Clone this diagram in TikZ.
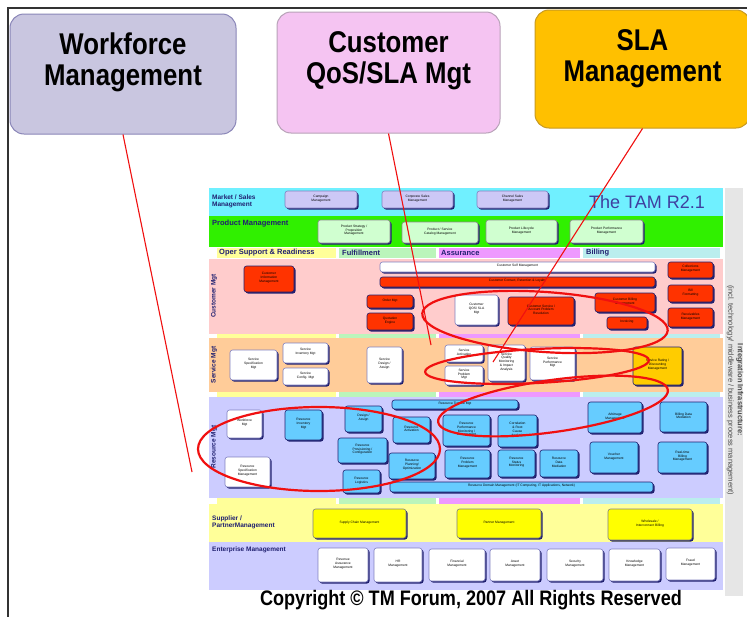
\documentclass[tikz,border=0pt]{standalone}
\usepackage{fontspec}
\setmainfont{Liberation Sans}
\newfontfamily\narrowfont[FakeStretch=0.86]{Liberation Sans}
\usepackage{tikz}
\usetikzlibrary{positioning,fit,shadows}
\definecolor{cframe}{HTML}{333333}
\definecolor{cwfm}{HTML}{C9C6E0}
\definecolor{cwfmline}{HTML}{8A86B8}
\definecolor{cqos}{HTML}{F5C4F2}
\definecolor{cqosline}{HTML}{B8A2B8}
\definecolor{csla}{HTML}{FFC000}
\definecolor{cslaline}{HTML}{C89A20}
\definecolor{cmarket}{HTML}{70F0FF}
\definecolor{cprod}{HTML}{30F000}
\definecolor{cprodbox}{HTML}{D0FFD0}
\definecolor{cmktbox}{HTML}{CCC8F6}
\definecolor{coper}{HTML}{FFFF99}
\definecolor{cfulf}{HTML}{BBF5BB}
\definecolor{cassur}{HTML}{EE99FF}
\definecolor{cbill}{HTML}{BBEEEE}
\definecolor{ccust}{HTML}{FFCCCC}
\definecolor{cserv}{HTML}{FFCC99}
\definecolor{cres}{HTML}{CCCCFF}
\definecolor{csupp}{HTML}{FFFF99}
\definecolor{cred}{HTML}{FF3300}
\definecolor{cblue}{HTML}{66CCFF}
\definecolor{cyel}{HTML}{FFFF00}
\definecolor{crate}{HTML}{FFCC00}
\definecolor{cnavy}{HTML}{202070}
\definecolor{cpurple}{HTML}{8080C0}
\definecolor{ctam}{HTML}{3F3FA0}
\definecolor{cloop}{HTML}{F01010}
\definecolor{cstrip}{HTML}{E6E6E6}

\begin{document}
\begin{tikzpicture}[x=1pt,y=-1pt,
  topbox/.style={rectangle,rounded corners=14pt,line width=1pt,inner sep=0pt},
  toptext/.style={font=\narrowfont\bfseries\fontsize{30}{31}\selectfont,align=center,inner sep=0pt},
  lbl/.style={font=\bfseries\fontsize{6.5}{7}\selectfont,text=cnavy,align=left,inner sep=0pt,anchor=west},
  hdr/.style={font=\bfseries\fontsize{7.5}{8}\selectfont,text=cnavy,inner sep=0pt,anchor=west},
  tam/.style={rectangle,rounded corners=2.5pt,inner sep=0pt,align=center,line width=0.6pt,
              font=\fontsize{3.3}{3.8}\selectfont,
              drop shadow={shadow xshift=1.5pt,shadow yshift=-1.5pt,fill=cnavy,opacity=1}},
  mktbox/.style={tam,fill=cmktbox,draw=cpurple},
  prodbox/.style={tam,fill=cprodbox,draw=black!45},
  redbox/.style={tam,fill=cred,draw=cnavy},
  whitebox/.style={tam,fill=white,draw=cpurple},
  bluebox/.style={tam,fill=cblue,draw=cnavy},
  yelbox/.style={tam,fill=cyel,draw=black!50},
  redline/.style={cloop,line width=1.1pt},
  loop/.style={cloop,line width=2.2pt}]
\useasboundingbox (0,0) rectangle (747,616);
\fill[white] (0,0) rectangle (747,616);
\draw[cframe,line width=1.6pt] (8,8) rectangle (770,640);

% top boxes
\node[topbox,fill=cwfm,draw=cwfmline,fit={(10,14) (236,134)}] (wfm) {};
\node[topbox,fill=cqos,draw=cqosline,fit={(277,12) (500,133)}] (qos) {};
\node[topbox,fill=csla,draw=cslaline,fit={(535,10) (750,128)}] (sla) {};
\node[toptext,below=19pt of wfm.north] (wfmtxt) {Workforce\\Management};
\node[toptext,below=20pt of qos.north] (qostxt) {Customer\\QoS/SLA Mgt};
\node[toptext,below=20pt of sla.north] (slatxt) {SLA\\Management};

% bands of the map
\fill[white] (209,188) rectangle (723,592);
\fill[cmarket] (209,188) rectangle (723,216);
\fill[cprod] (209,216) rectangle (723,247);
\fill[ccust] (209,259) rectangle (723,334);
\fill[cserv] (209,338) rectangle (723,392);
\fill[cres] (209,397) rectangle (723,498);
\fill[csupp] (209,504) rectangle (723,542);
\fill[cres] (209,542) rectangle (723,590);
\fill[cstrip] (725,188) rectangle (743,596);
\foreach \ya/\yb in {248/258,334/338,392/397,498/504}{
  \fill[coper] (217,\ya) rectangle (336,\yb);
  \fill[cfulf] (339,\ya) rectangle (436,\yb);
  \fill[cassur] (439,\ya) rectangle (580,\yb);
  \fill[cbill] (583,\ya) rectangle (720,\yb);
}

% band labels
\node[lbl] (mktlbl) at (212,201) {Market / Sales\\Management};
\node[lbl,font=\bfseries\fontsize{7.5}{8}\selectfont] (prodlbl) at (212,224) {Product Management};
\node[hdr] (operlbl) at (219,253) {Oper Support \& Readiness};
\node[hdr] (fulflbl) at (342,253) {Fulfillment};
\node[hdr] (assurlbl) at (441,253) {Assurance};
\node[hdr] (billlbl) at (586,253) {Billing};
\node[lbl,anchor=center,rotate=90] (custlbl) at (214,296) {Customer Mgt};
\node[lbl,anchor=center,rotate=90] (servlbl) at (214,365) {Service Mgt};
\node[lbl,anchor=center,rotate=90] (reslbl) at (214,447) {Resource Mgt};
\node[lbl] (supplbl) at (212,522) {Supplier /\\PartnerManagement};
\node[lbl] (entlbl) at (212,550) {Enterprise Management};
\node[font=\fontsize{18}{20}\selectfont,text=ctam] (tamlbl) at (647,202) {The TAM R2.1};
\node[rotate=-90,align=center,font=\fontsize{7.5}{9.5}\selectfont,text=black!70] (infra) at (735,390)
  {\textbf{Integration Infrastructure:}\\(incl. technology/ middleware / business process management)};

% market / product
\node[mktbox,fit={(285,191) (357,208)}] (camp) {Campaign\\Management};
\node[mktbox,fit={(382,191) (453,208)}] (corp) {Corporate Sales\\Management};
\node[mktbox,fit={(477,191) (548,208)}] (chan) {Channel Sales\\Management};
\node[prodbox,fit={(318,220) (390,243)}] (pstrat) {Product Strategy /\\Proposition\\Management};
\node[prodbox,fit={(402,222) (478,243)}] (pcat) {Product / Service\\Catalog Management};
\node[prodbox,fit={(486,220) (557,243)}] (plife) {Product Lifecycle\\Management};
\node[prodbox,fit={(570,220) (643,243)}] (pperf) {Product Performance\\Management};

% customer
\node[redbox,fit={(244,266) (294,292)}] (cim) {Customer\\Information\\Management};
\node[whitebox,fit={(380,262) (655,272)}] (cself) {Customer Self Management};
\node[redbox,fit={(380,277) (655,287)}] (ccrl) {Customer Contact, Retention \& Loyalty};
\node[redbox,fit={(367,295) (413,308)}] (order) {Order Mgt};
\node[redbox,fit={(367,313) (413,330)}] (quote) {Quotation\\Engine};
\node[whitebox,fit={(455,295) (498,325)}] (cqos) {Customer\\QOS/ SLA\\Mgt};
\node[redbox,fit={(508,297) (574,325)}] (csapr) {Customer Service /\\Account Problem\\Resolution};
\node[redbox,fit={(595,293) (655,312)}] (cbill) {Customer Billing\\Management};
\node[redbox,fit={(607,317) (647,329)}] (invoice) {Invoicing};
\node[redbox,fit={(668,262) (713,278)}] (collect) {Collections\\Management};
\node[redbox,fit={(668,285) (713,302)}] (billfmt) {Bill\\Formatting};
\node[redbox,fit={(668,308) (713,327)}] (receiv) {Receivables\\Management};

% service
\node[whitebox,fit={(230,350) (277,380)}] (sspec) {Service\\Specification\\Mgt};
\node[whitebox,fit={(283,343) (328,363)}] (sinv) {Service\\Inventory Mgt};
\node[whitebox,fit={(283,368) (328,385)}] (sconf) {Service\\Config. Mgt};
\node[whitebox,fit={(367,347) (402,383)}] (sdes) {Service\\Design /\\Assign};
\node[whitebox,fit={(445,345) (483,362)}] (sact) {Service\\Activation};
\node[whitebox,fit={(445,366) (483,385)}] (sprob) {Service\\Problem\\Mgt};
\node[whitebox,fit={(488,345) (525,381)}] (sqm) {Service\\Quality\\Monitoring\\\& Impact\\Analysis};
\node[whitebox,fit={(530,347) (575,380)}] (sperf) {Service\\Performance\\Mgt};
\node[tam,fill=crate,draw=cnavy,fit={(633,347) (682,385)}] (srate) {Service Rating /\\Discounting\\Management};

% resource
\node[whitebox,fit={(227,410) (262,438)}] (wfmres) {Workforce\\Mgt};
\node[whitebox,fit={(225,457) (270,487)}] (rspec) {Resource\\Specification\\Management};
\node[bluebox,fit={(285,410) (322,440)}] (rinv) {Resource\\Inventory\\Mgt};
\node[bluebox,fit={(345,406) (382,432)}] (rdes) {Design /\\Assign};
\node[bluebox,fit={(338,438) (387,463)}] (rprov) {Resource\\Provisioning /\\Configuration};
\node[bluebox,fit={(343,470) (380,493)}] (rlog) {Resource\\Logistics};
\node[bluebox,fit={(389,453) (435,479)}] (rplan) {Resource\\Planning/\\Optimization};
\node[bluebox,fit={(393,417) (430,443)}] (ract) {Resource\\Activation};
\node[bluebox,fit={(392,400) (518,409)}] (rtrb) {Resource Trouble Mgt};
\node[bluebox,fit={(443,415) (490,446)}] (rperf) {Resource\\Performance\\Monitoring /\\Management};
\node[bluebox,fit={(445,450) (490,478)}] (rprob) {Resource\\Problem\\Management};
\node[bluebox,fit={(498,415) (537,447)}] (rcorr) {Correlation\\\& Root\\Cause\\Analysis};
\node[bluebox,fit={(498,450) (535,477)}] (rstat) {Resource\\Status\\Monitoring};
\node[bluebox,fit={(540,450) (578,477)}] (rdata) {Resource\\Data\\Mediation};
\node[bluebox,fit={(390,482) (653,492)}] (rdom) {Resource Domain Management (IT Computing, IT Applications, Network)};
\node[bluebox,fit={(588,402) (642,433)}] (arb) {Arbitrage\\Management};
\node[bluebox,fit={(590,442) (638,473)}] (vouch) {Voucher\\Management};
\node[bluebox,fit={(660,402) (707,432)}] (bdm) {Billing Data\\Mediation};
\node[bluebox,fit={(658,442) (707,473)}] (rtb) {Real-time\\Billing\\Management};

% supplier / partner
\node[yelbox,fit={(313,509) (406,538)}] (supply) {Supply Chain Management};
\node[yelbox,fit={(457,509) (541,538)}] (partner) {Partner Management};
\node[yelbox,fit={(608,509) (692,540)}] (whole) {Wholesale /\\Interconnect Billing};

% enterprise
\node[whitebox,fit={(318,548) (368,582)}] (revas) {Revenue\\Assurance\\Management};
\node[whitebox,fit={(374,548) (422,582)}] (hr) {HR\\Management};
\node[whitebox,fit={(429,549) (485,581)}] (fin) {Financial\\Management};
\node[whitebox,fit={(490,549) (540,581)}] (asset) {Asset\\Management};
\node[whitebox,fit={(547,549) (603,581)}] (secu) {Security\\Management};
\node[whitebox,fit={(609,549) (660,581)}] (know) {Knowledge\\Management};
\node[whitebox,fit={(666,548) (715,580)}] (fraud) {Fraud\\Management};

\node[font=\narrowfont\bfseries\fontsize{21}{23}\selectfont] (copy) at (471,600)
  {Copyright © TM Forum, 2007 All Rights Reserved};

% red loops and pointers
\draw[loop] (545,322) ellipse [x radius=123,y radius=30,rotate=-4];
\draw[loop] (537,366) ellipse [x radius=112,y radius=17,rotate=3];
\draw[loop] (553,406) ellipse [x radius=116,y radius=26,rotate=8];
\draw[loop] (319,449) ellipse [x radius=121,y radius=42];
\coordinate (wfmend) at (192,472);
\coordinate (qosend) at (431,345);
\coordinate (slaend) at (493,362);
\draw[redline] (wfm.south) -- (wfmend);
\draw[redline] (qos.south) -- (qosend);
\draw[redline] (sla.south) -- (slaend);
\end{tikzpicture}
\end{document}
